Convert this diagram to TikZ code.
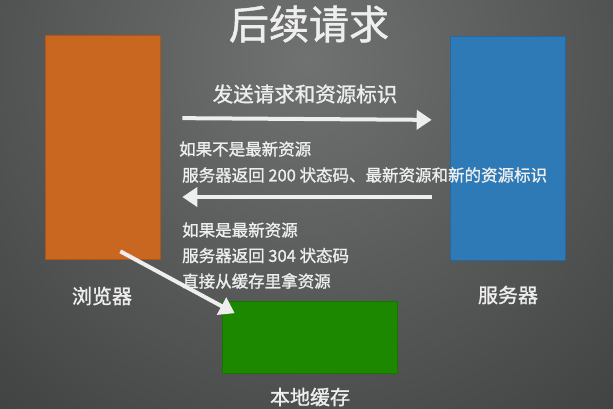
\documentclass[tikz,border=0pt]{standalone}
\usepackage{fontspec}
\setmainfont{Noto Sans CJK SC}[FakeBold=1.2]
\usepackage{tikz}
\usetikzlibrary{arrows.meta,positioning}

\definecolor{bglight}{RGB}{112,114,114}
\definecolor{bgdark}{RGB}{36,36,36}
\definecolor{browserorange}{RGB}{201,102,32}
\definecolor{serverblue}{RGB}{45,122,183}
\definecolor{cachegreen}{RGB}{28,136,0}
\definecolor{chalkwhite}{RGB}{238,238,238}

\tikzset{
	box/.style={draw=#1!85!black, fill=#1, line width=0.6pt, inner sep=0pt},
	tag/.style={text=chalkwhite, inner sep=0pt, font=\fontsize{20}{24}\selectfont},
	note/.style={text=chalkwhite, inner sep=0pt, anchor=west, font=\fontsize{16.5}{20}\selectfont},
	chalk/.style={draw=chalkwhite, line width=4pt, -{Triangle[length=15pt,width=19pt]}}
}

\begin{document}
\begin{tikzpicture}[x=1pt, y=-1pt]
\useasboundingbox (0,0) rectangle (613,408);
\begin{scope}
	\clip (0,0) rectangle (613,408);
	\fill[bgdark] (0,0) rectangle (613,408);
	\shade[inner color=bglight, outer color=bgdark] (307,60) circle (760);
\end{scope}

\node[text=chalkwhite, inner sep=0pt, font=\fontsize{40}{44}\selectfont] (title) at (309,24) {后续请求};

\node[box=browserorange, minimum width=115pt, minimum height=224pt] (browser) at (102.5,147) {};
\node[box=serverblue, minimum width=115pt, minimum height=224pt] (server) at (507.5,148) {};
\node[box=cachegreen, minimum width=175pt, minimum height=72pt] (cache) at (309.5,337.5) {};

\node[tag] (browser-name) at (102,296) {浏览器};
\node[tag] (server-name) at (508,295) {服务器};
\node[tag] (cache-name) at (310,397) {本地缓存};

\node[tag, font=\fontsize{20.5}{24}\selectfont] (request) at (305,94) {发送请求和资源标识};
\node[note] (miss-a) at (179,149) {如果不是最新资源};
\node[note] (miss-b) at (182,175) {服务器返回 200 状态码、最新资源和新的资源标识};
\node[note] (hit-a) at (182,230) {如果是最新资源};
\node[note] (hit-b) at (182,255.5) {服务器返回 304 状态码};
\node[note] (hit-c) at (182,281) {直接从缓存里拿资源};

\path
([yshift=29pt]browser.east) edge[chalk, shorten <=22pt, shorten >=18pt] ([yshift=28pt]server.west)
([yshift=-49pt]server.west) edge[chalk, shorten <=18pt, shorten >=22pt] ([yshift=-50pt]browser.east)
([shift={(-40pt,8pt)}]browser.south east) edge[chalk] ([shift={(13pt,-12pt)}]cache.north west)
;
\end{tikzpicture}
\end{document}
